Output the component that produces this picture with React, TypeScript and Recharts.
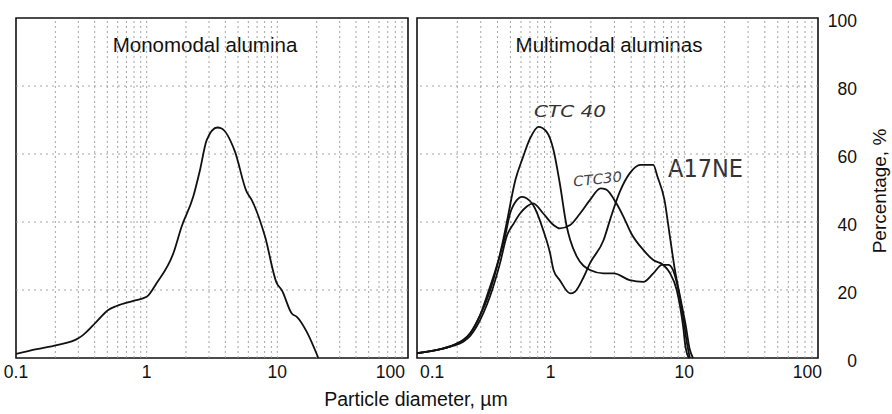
import { LineChart, Line, XAxis, YAxis, ReferenceLine, ReferenceArea } from 'recharts';

const W = 892;
const H = 414;
const FONT = '"Liberation Sans", Arial, Helvetica, sans-serif';
const HAND = '"DejaVu Sans", sans-serif';

// axis ticks
const xTicks = [0.1, 1, 10, 100];
const yTicks = [0, 20, 40, 60, 80, 100];
const gridX = [
  0.2, 0.3, 0.4, 0.5, 0.6, 0.7, 0.8, 0.9, 1,
  2, 3, 4, 5, 6, 7, 8, 9, 10,
  20, 30, 40, 50, 60, 70, 80, 90,
];
const gridY = [20, 40, 60, 80];

// Monomodal alumina
const monoSize = [0.1, 0.144, 0.205, 0.3, 0.327, 0.414, 0.508, 0.59, 0.79, 1.0, 1.19, 1.6, 1.85, 2.27, 2.56, 2.88, 3.47, 3.75, 4.74, 5.82, 6.36, 8.05, 9.9, 10.8, 12.9, 14.1, 16.8, 20.6];
const monoPct = [1.2, 2.6, 3.8, 5.8, 6.8, 10.7, 14.1, 15.3, 16.8, 18.0, 22, 30.8, 38.6, 47.4, 55.3, 64.1, 67.8, 67.5, 60.7, 48.9, 46.5, 35.7, 22, 20, 13.1, 12.1, 7.7, 0];

// CTC 40
const ctc40Size = [0.1, 0.15, 0.187, 0.222, 0.25, 0.296, 0.332, 0.372, 0.43, 0.468, 0.545, 0.62, 0.7, 0.81, 0.93, 1.05, 1.17, 1.32, 1.4, 1.57, 1.97, 2.49, 2.97, 3.9, 4.93, 5.86, 6.8, 7.6, 8.2, 8.8, 9.8, 10.4, 11.0];
const ctc40Pct = [1.4, 2.6, 3.8, 5.3, 7.3, 12.5, 17, 22.9, 32.7, 39.6, 52.4, 59, 64.5, 68, 66.6, 61.2, 51.4, 38.6, 34.7, 29.8, 25.9, 24.9, 24.9, 22.9, 22.4, 24.9, 27.4, 27.4, 26, 22, 12.1, 5, 0];

// CTC 30
const ctc30Size = [0.1, 0.15, 0.187, 0.222, 0.25, 0.313, 0.351, 0.418, 0.468, 0.53, 0.59, 0.66, 0.74, 0.88, 1.05, 1.17, 1.4, 1.66, 1.97, 2.36, 2.59, 3.1, 3.5, 4.0, 4.93, 5.86, 6.96, 7.8, 8.77, 9.3, 9.8, 10.2, 10.8];
const ctc30Pct = [1.4, 2.6, 3.6, 4.8, 6.5, 13.1, 18, 27.9, 35.7, 39.6, 42.5, 44.5, 45.5, 42.5, 39.1, 38.1, 39.1, 42.5, 46.5, 49.9, 49.6, 45.5, 41.6, 36.7, 31.8, 28.8, 27.4, 25, 20, 15.1, 9.2, 3.3, 0];

// A17NE
const a17Size = [0.1, 0.15, 0.187, 0.222, 0.25, 0.296, 0.332, 0.394, 0.455, 0.497, 0.56, 0.606, 0.66, 0.74, 0.88, 0.99, 1.05, 1.17, 1.4, 1.52, 1.77, 1.97, 2.49, 2.8, 3.3, 3.9, 4.7, 5.86, 6.3, 7.1, 7.8, 8.5, 9.3, 10.2, 11.0, 11.6];
const a17Pct = [1.4, 2.6, 3.8, 5.3, 7.3, 12.5, 18, 26.9, 35.7, 42.5, 46.5, 47.4, 47, 45, 37.6, 30.8, 25.9, 22.9, 19, 19.5, 23.9, 27.9, 34.7, 41, 49, 54.3, 56.8, 56.8, 53.3, 46.5, 35.7, 25.9, 18, 10, 2.4, 0];

const toRows = (xs: number[], ys: number[]) => xs.map((d, i) => ({ d, p: ys[i] }));

const monoRows = toRows(monoSize, monoPct);
const ctc40Rows = toRows(ctc40Size, ctc40Pct);
const ctc30Rows = toRows(ctc30Size, ctc30Pct);
const a17Rows = toRows(a17Size, a17Pct);

const makeXTick = (panel: 'left' | 'right') => (props: any) => {
  const { x, y, payload } = props;
  const v = payload.value;
  let anchor = 'middle';
  let dx = 0;
  if (panel === 'left' && v === 100) { anchor = 'end'; dx = -3; }
  if (panel === 'right' && v === 0.1) { anchor = 'start'; dx = 3; }
  if (panel === 'right' && v === 100) { anchor = 'end'; dx = 4; }
  return (
    <text x={x + dx} y={y + 20} textAnchor={anchor} fontSize={17.5} fill="#111" fontFamily={FONT}>
      {String(v)}
    </text>
  );
};

const YTick = (props: any) => {
  const { x, y, payload } = props;
  return (
    <text x={x + 39} y={y + 9} textAnchor="end" fontSize={17.5} fill="#111" fontFamily={FONT}>
      {payload.value}
    </text>
  );
};

const gridStroke = '#9a9a9a';

function Panel({ side, children }: { side: 'left' | 'right'; children: any }) {
  const margin = side === 'left'
    ? { top: 18, left: 16, right: 484, bottom: 26 }
    : { top: 18, left: 417, right: 14, bottom: 26 };
  return (
    <div style={{ position: 'absolute', left: 0, top: 0 }}>
      <LineChart width={W} height={H} margin={margin}>
        <XAxis
          dataKey="d"
          type="number"
          scale="log"
          domain={[0.1, 100]}
          allowDataOverflow
          ticks={xTicks}
          tick={makeXTick(side)}
          tickLine={false}
          axisLine={false}
          tickSize={0}
          tickMargin={0}
          height={30}
          interval={0}
        />
        {side === 'left' ? (
          <YAxis type="number" domain={[0, 100]} ticks={yTicks} hide />
        ) : (
          <YAxis
            type="number"
            orientation="right"
            domain={[0, 100]}
            ticks={yTicks}
            tick={<YTick />}
            tickLine={false}
            axisLine={false}
            tickSize={0}
            tickMargin={0}
            width={60}
            interval={0}
          />
        )}
        {gridX.map((v) => (
          <ReferenceLine key={'gx' + v} x={v} stroke={gridStroke} strokeWidth={0.9} strokeDasharray="2 3" />
        ))}
        {gridY.map((v) => (
          <ReferenceLine key={'gy' + v} y={v} stroke={gridStroke} strokeWidth={0.9} strokeDasharray="2 4" />
        ))}
        <ReferenceArea x1={0.1} x2={100} y1={0} y2={100} fill="none" fillOpacity={0} stroke="#111" strokeWidth={1.6} ifOverflow="visible" />
        {children}
      </LineChart>
    </div>
  );
}

export default function App() {
  return (
    <div style={{ position: 'absolute', left: 0, top: 0, width: W, height: H, background: '#fff', fontFamily: FONT }}>
      <Panel side="left">
        <Line data={monoRows} dataKey="p" type="monotone" stroke="#111" strokeWidth={1.8} dot={false} isAnimationActive={false} />
        <text x={205} y={52} textAnchor="middle" fontSize={20.5} fill="#111" fontFamily={FONT}>Monomodal alumina</text>
      </Panel>
      <Panel side="right">
        <Line data={ctc40Rows} dataKey="p" type="monotone" stroke="#111" strokeWidth={1.8} dot={false} isAnimationActive={false} />
        <Line data={ctc30Rows} dataKey="p" type="monotone" stroke="#111" strokeWidth={1.8} dot={false} isAnimationActive={false} />
        <Line data={a17Rows} dataKey="p" type="monotone" stroke="#111" strokeWidth={1.8} dot={false} isAnimationActive={false} />
        <text x={609} y={52} textAnchor="middle" fontSize={20.5} fill="#111" fontFamily={FONT}>Multimodal aluminas</text>
        <text x={534} y={117} fontSize={16} fill="#333" fontFamily={HAND} fontStyle="italic" textLength={72} lengthAdjust="spacingAndGlyphs">CTC 40</text>
        <text x={573} y={184} fontSize={14} fill="#444" fontFamily={HAND} fontStyle="italic" textLength={49} lengthAdjust="spacingAndGlyphs" transform="rotate(-6, 597, 178)">CTC30</text>
        <text x={668} y={177} fontSize={24} fill="#333" fontFamily={HAND} textLength={75} lengthAdjust="spacingAndGlyphs">A17NE</text>
        <text x={416} y={406} textAnchor="middle" fontSize={19.5} fill="#111" fontFamily={FONT}>Particle diameter, µm</text>
        <text x={0} y={0} transform="translate(886, 191) rotate(-90)" textAnchor="middle" fontSize={19} fill="#111" fontFamily={FONT}>Percentage, %</text>
      </Panel>
    </div>
  );
}
